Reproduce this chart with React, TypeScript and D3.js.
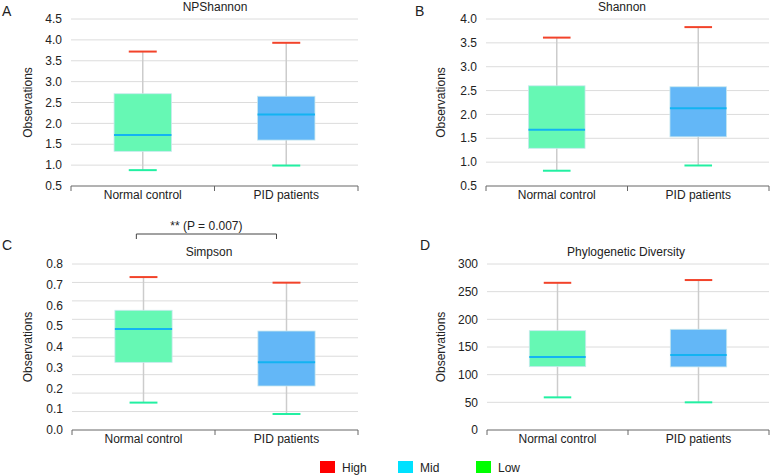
import * as d3 from "d3";
import type { ReactElement } from "react";

// ---- data ----
const groups = ["Normal control", "PID patients"];

// each row: [low, q1, median, q3, high]
const npShannonStats = [
  [0.88, 1.33, 1.72, 2.71, 3.72],
  [0.99, 1.6, 2.21, 2.65, 3.93],
];
const shannonStats = [
  [0.82, 1.29, 1.68, 2.6, 3.61],
  [0.93, 1.53, 2.13, 2.58, 3.83],
];
const simpsonStats = [
  [0.132, 0.326, 0.487, 0.577, 0.737],
  [0.077, 0.212, 0.326, 0.477, 0.71],
];
const pdStats = [
  [59, 114.5, 132, 179.5, 266],
  [50, 114, 135.5, 182, 271],
];

const npShannonTicks = [0.5, 1.0, 1.5, 2.0, 2.5, 3.0, 3.5, 4.0, 4.5];
const shannonTicks = [0.5, 1.0, 1.5, 2.0, 2.5, 3.0, 3.5, 4.0];
const simpsonTicks = [0.0, 0.1, 0.2, 0.3, 0.4, 0.5, 0.6, 0.7, 0.8];
const pdTicks = [0, 50, 100, 150, 200, 250, 300];

const legendLabels = ["High", "Mid", "Low"];
const legendColors = ["#ff0000", "#00e1ff", "#00ff00"];

const FONT = "'Liberation Sans', Arial, sans-serif";
const GRID = "#dcdcdc";
const WHISKER = "#cccccc";
const HIGH_CAP = "#f2432a";
const LOW_CAP = "#22f0a2";
const MEDIAN = "#13b3f2";
const BOX_FILL = ["#66f8b4", "#63b7f7"];

type Panel = {
  letter: string;
  title: string;
  stats: number[][];
  ticks: number[];
  gridCount?: number; // number of grid intervals when grid does not follow labels
  x0: number;
  x1: number;
  top: number;
  bottom: number;
  letterX: number;
  titleX: number;
  yTitleX: number;
};

const panels: Panel[] = [
  { letter: "A", title: "NPShannon", stats: npShannonStats, ticks: npShannonTicks,
    x0: 71, x1: 358, top: 19, bottom: 186, letterX: 2, titleX: 215, yTitleX: 28 },
  { letter: "B", title: "Shannon", stats: shannonStats, ticks: shannonTicks,
    x0: 486, x1: 769, top: 19, bottom: 186, letterX: 415, titleX: 622, yTitleX: 441 },
  { letter: "C", title: "Simpson", stats: simpsonStats, ticks: simpsonTicks, gridCount: 9,
    x0: 72, x1: 358, top: 264, bottom: 430, letterX: 2, titleX: 209, yTitleX: 28 },
  { letter: "D", title: "Phylogenetic Diversity", stats: pdStats, ticks: pdTicks,
    x0: 487, x1: 769, top: 264, bottom: 430, letterX: 420, titleX: 626, yTitleX: 441 },
];

const BoxPanel = ({ p }: { p: Panel }): ReactElement => {
  const extent = d3.extent(p.ticks) as [number, number];
  const y = d3.scaleLinear().domain(extent).range([p.bottom, p.top]);
  const x = d3.scaleBand().domain(groups).range([p.x0, p.x1]);
  const bw = x.bandwidth();
  const boxW = bw * 0.4;
  const capW = bw * 0.195;

  const gridValues = p.gridCount
    ? d3.range(p.gridCount).map((i) => extent[1] - ((extent[1] - extent[0]) * i) / p.gridCount!)
    : p.ticks.filter((t) => t !== extent[0]);

  const fmt = p.ticks.some((t) => t % 1 !== 0) ? d3.format(".1f") : d3.format("d");
  const titleY = p.top < 100 ? 11 : 256;
  const letterY = p.top < 100 ? 16 : 250;

  return (
    <g fontFamily={FONT}>
      <text x={p.letterX} y={letterY} fontSize={14} fill="#222">{p.letter}</text>
      <text x={p.titleX} y={titleY} fontSize={12} textAnchor="middle" fill="#222">{p.title}</text>

      {gridValues.map((v, i) => (
        <line key={`g${i}`} x1={p.x0} x2={p.x1} y1={y(v)} y2={y(v)} stroke={GRID} strokeWidth={1} />
      ))}

      {p.ticks.map((t) => (
        <text key={`t${t}`} x={p.x0 - 9} y={y(t)} dy="0.35em" fontSize={12} textAnchor="end" fill="#222">
          {fmt(t)}
        </text>
      ))}

      <text
        transform={`translate(${p.yTitleX},${(p.top + p.bottom) / 2}) rotate(-90)`}
        fontSize={12}
        textAnchor="middle"
        dy="0.35em"
        fill="#222"
      >
        Observations
      </text>

      {groups.map((g, gi) => {
        const [lo, q1, med, q3, hi] = p.stats[gi];
        const cx = (x(g) ?? 0) + bw / 2;
        return (
          <g key={g}>
            <line x1={cx} x2={cx} y1={y(hi)} y2={y(lo)} stroke={WHISKER} strokeWidth={1.5} />
            <rect
              x={cx - boxW / 2}
              y={y(q3)}
              width={boxW}
              height={y(q1) - y(q3)}
              fill={BOX_FILL[gi]}
              stroke="#c8e8ee"
              strokeWidth={0.8}
            />
            <line x1={cx - boxW / 2} x2={cx + boxW / 2} y1={y(med)} y2={y(med)} stroke={MEDIAN} strokeWidth={2} />
            <line x1={cx - capW / 2} x2={cx + capW / 2} y1={y(hi)} y2={y(hi)} stroke={HIGH_CAP} strokeWidth={2} />
            <line x1={cx - capW / 2} x2={cx + capW / 2} y1={y(lo)} y2={y(lo)} stroke={LOW_CAP} strokeWidth={2} />
            <text x={cx} y={p.bottom + 13} fontSize={12} textAnchor="middle" fill="#222">{g}</text>
          </g>
        );
      })}

      {/* bottom axis */}
      <line x1={p.x0} x2={p.x1} y1={p.bottom} y2={p.bottom} stroke="#666" strokeWidth={1} />
      {[p.x0, (x(groups[1]) ?? 0), p.x1].map((tx, i) => (
        <line key={`xt${i}`} x1={tx} x2={tx} y1={p.bottom} y2={p.bottom + 5} stroke="#666" strokeWidth={1} />
      ))}
    </g>
  );
};

export default function App(): ReactElement {
  // significance bracket between the two Simpson groups
  const sp = panels[2];
  const sx = d3.scaleBand().domain(groups).range([sp.x0, sp.x1]);
  const bx0 = (sx(groups[0]) ?? 0) + sx.bandwidth() * 0.45;
  const bx1 = (sx(groups[1]) ?? 0) + sx.bandwidth() * 0.43;

  const legendX = [320, 398, 476];

  return (
    <svg
      width={771}
      height={475}
      viewBox="0 0 771 475"
      style={{ position: "absolute", left: 0, top: 0, background: "#fff" }}
    >
      <rect width={771} height={475} fill="#fff" />
      {panels.map((p) => (
        <BoxPanel key={p.letter} p={p} />
      ))}

      <g fontFamily={FONT}>
        <path d={`M${bx0},239V234H${bx1}V239`} fill="none" stroke="#444" strokeWidth={1} />
        <text x={(bx0 + bx1) / 2} y={230} fontSize={12} textAnchor="middle" fill="#222">
          ** (P = 0.007)
        </text>
      </g>

      <g fontFamily={FONT}>
        {legendLabels.map((l, i) => (
          <g key={l}>
            <rect x={legendX[i]} y={461} width={15} height={12} fill={legendColors[i]} />
            <text x={legendX[i] + 22} y={472} fontSize={12} fill="#222">{l}</text>
          </g>
        ))}
      </g>
    </svg>
  );
}
